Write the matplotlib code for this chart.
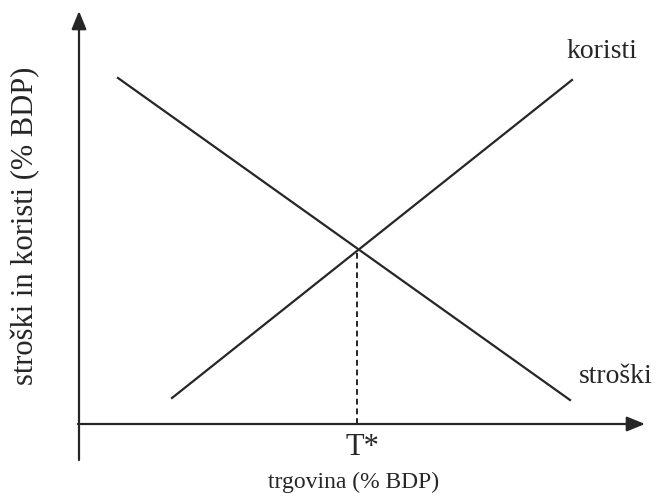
import matplotlib.pyplot as plt

# podatki (x = trgovina, y = stroški / koristi), izhodišče v presečišču osi
stroski_x = [39, 491]
stroski_y = [346, 24]
koristi_x = [93, 493]
koristi_y = [26, 344]
t_star = 278
t_star_y = 173

plt.rcParams['font.family'] = ['Liberation Serif', 'DejaVu Serif']

fig = plt.figure(figsize=(6.57, 4.97), dpi=100)
ax = fig.add_axes([0, 0, 1, 1])
ax.set_xlim(-79, 578)
ax.set_ylim(-73, 424)
ax.axis('off')

col = '#262626'

# osi s puščicama
ax.annotate('', xy=(566, 0), xytext=(-1, 0),
            arrowprops=dict(arrowstyle='-|>,head_length=1.1,head_width=0.45',
                            color=col, lw=1.6, shrinkA=0, shrinkB=0))
ax.annotate('', xy=(0, 413), xytext=(0, -36),
            arrowprops=dict(arrowstyle='-|>,head_length=1.1,head_width=0.45',
                            color=col, lw=1.6, shrinkA=0, shrinkB=0))

# krivulji
ax.plot(stroski_x, stroski_y, color=col, lw=1.6)
ax.plot(koristi_x, koristi_y, color=col, lw=1.6)

# T*
ax.plot([t_star, t_star], [0, t_star_y], color=col, lw=1.4, ls=(0, (3, 2)))

ax.text(t_star - 11, -31, 'T*', ha='left', va='baseline', fontsize=22, color=col)
ax.text(523, 366, 'koristi', ha='center', va='baseline', fontsize=20, color=col)
ax.text(537, 41, 'stroški', ha='center', va='baseline', fontsize=20, color=col)
ax.text(275, -64, 'trgovina (% BDP)', ha='center', va='baseline', fontsize=17, color=col)
ax.text(-53, 198, 'stroški in koristi (% BDP)', ha='center', va='center',
        rotation=90, fontsize=22, color=col)

fig.savefig('out.png', dpi=100)
